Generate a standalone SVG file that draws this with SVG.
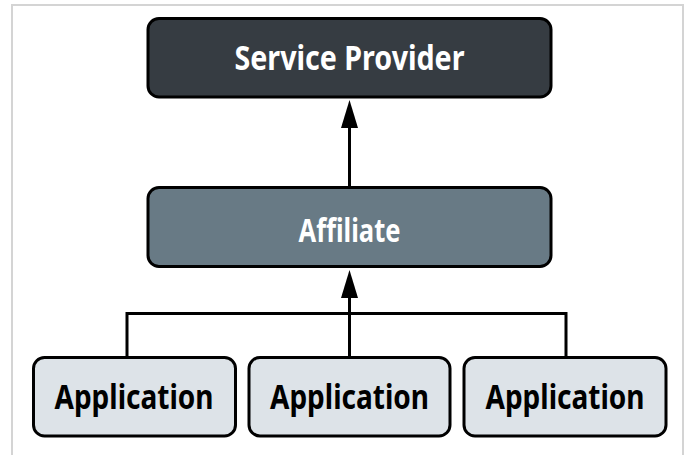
<svg xmlns="http://www.w3.org/2000/svg" width="688" height="455" viewBox="0 0 688 455">
<style>
.box{stroke:#000;stroke-width:3}
.t{font-family:"Noto Sans","DejaVu Sans",sans-serif;font-weight:bold;text-anchor:middle}
.w{fill:#fff}
.k{fill:#000}
.ln{stroke:#000;stroke-width:3;fill:none}
.ah{fill:#000}
</style>
<rect x="0" y="0" width="688" height="455" fill="#fff"/>
<path d="M12,455 V5 H683 V455" fill="none" stroke="#d4d4d4" stroke-width="2"/>
<g id="connectors">
<path class="ln" d="M349.5,187 V126"/>
<polygon class="ah" points="349.5,100 341,128 358,128"/>
<path class="ln" d="M349.5,357 V296 M127,357 V313.5 H566 V357"/>
<polygon class="ah" points="349.5,270 341,298 358,298"/>
</g>
<g id="service-provider">
<rect class="box" x="148" y="18.5" width="403" height="78.5" rx="11" fill="#363c42"/>
<text class="t w" x="349.5" y="70" font-size="34" textLength="230" lengthAdjust="spacingAndGlyphs">Service Provider</text>
</g>
<g id="affiliate">
<rect class="box" x="148" y="187.5" width="403" height="79" rx="11" fill="#687a85"/>
<text class="t w" x="349.5" y="242" font-size="33" textLength="102" lengthAdjust="spacingAndGlyphs">Affiliate</text>
</g>
<g id="app1">
<rect class="box" x="33.5" y="357.5" width="202" height="78.5" rx="11" fill="#dde3e8"/>
<text class="t k" x="134" y="409" font-size="34" textLength="159" lengthAdjust="spacingAndGlyphs">Application</text>
</g>
<g id="app2">
<rect class="box" x="249" y="357.5" width="201" height="78.5" rx="11" fill="#dde3e8"/>
<text class="t k" x="349.5" y="409" font-size="34" textLength="159" lengthAdjust="spacingAndGlyphs">Application</text>
</g>
<g id="app3">
<rect class="box" x="464" y="357.5" width="202" height="78.5" rx="11" fill="#dde3e8"/>
<text class="t k" x="565" y="409" font-size="34" textLength="159" lengthAdjust="spacingAndGlyphs">Application</text>
</g>
</svg>
